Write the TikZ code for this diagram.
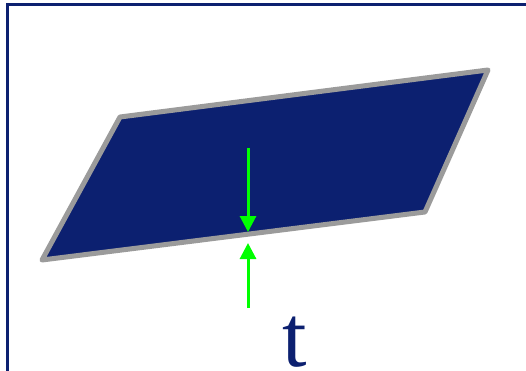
\documentclass[tikz,border=0pt]{standalone}
\usepackage{fontspec}
\setmainfont{Liberation Serif}
\usetikzlibrary{arrows.meta}
\definecolor{navy}{RGB}{12,32,112}
\definecolor{rimgrey}{RGB}{155,155,155}
\definecolor{arrowgreen}{RGB}{0,255,0}
\tikzset{
  frameline/.style={draw=navy, line width=3pt},
  plate/.style={fill=navy, draw=rimgrey, line width=5pt, line join=round},
  thick arrow/.style={draw=arrowgreen, line width=3pt, -{Triangle[width=16pt,length=16pt]}},
  label t/.style={text=navy, font=\fontsize{88}{88}\selectfont, inner sep=0pt, anchor=base}
}
\begin{document}
\begin{tikzpicture}[x=1pt,y=-1pt]
\useasboundingbox (0,0) rectangle (526,371);
\coordinate (fTop) at (526,5);
\coordinate (fCorner) at (7,5);
\coordinate (fBottom) at (7,371);
\draw[frameline] (fBottom) -- (fCorner) -- (fTop);
\coordinate (pTL) at (120,117);
\coordinate (pTR) at (488,70);
\coordinate (pBR) at (425,212);
\coordinate (pBL) at (42,260);
\path[plate] (pTL) -- (pTR) -- (pBR) -- (pBL) -- cycle;
\coordinate (dStart) at (248,148);
\coordinate (dEnd) at (248,232);
\coordinate (uStart) at (248,308);
\coordinate (uEnd) at (248,243);
\draw[thick arrow] (dStart) -- (dEnd);
\draw[thick arrow] (uStart) -- (uEnd);
\node[label t] (t) at (295,366.5) {t};
\end{tikzpicture}
\end{document}
